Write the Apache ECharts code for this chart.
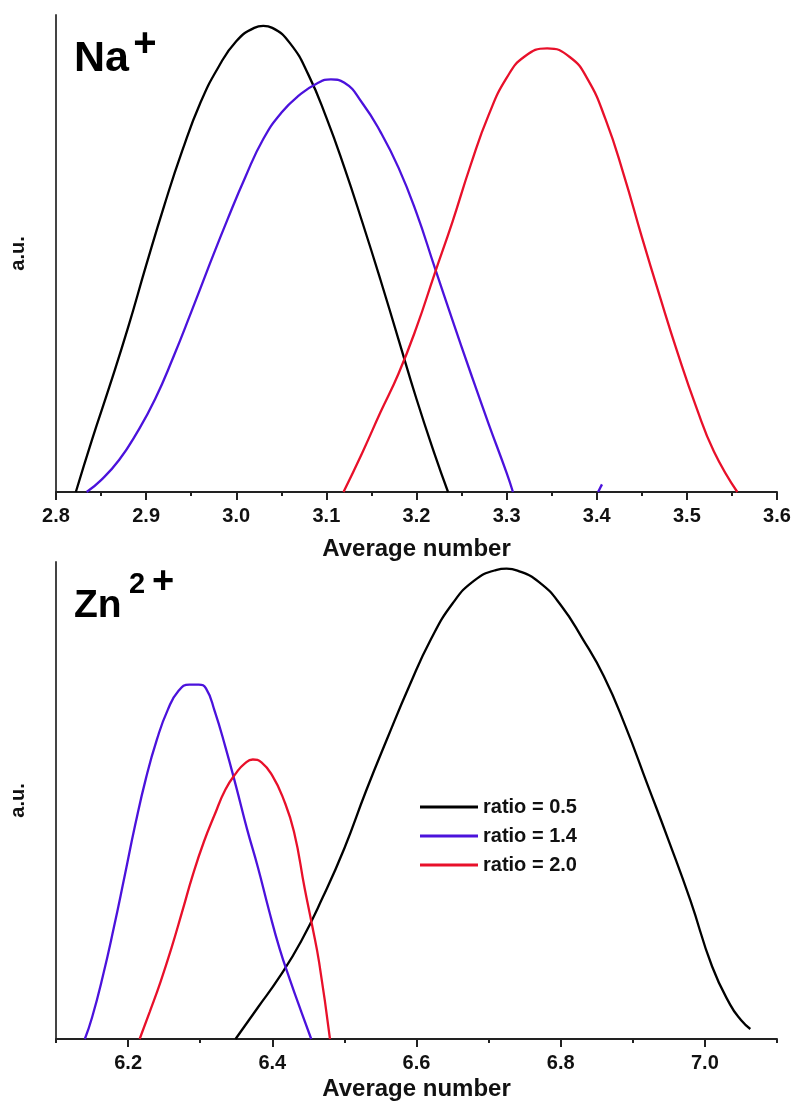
<!DOCTYPE html>
<html>
<head>
<meta charset="UTF-8">
<title>Average number</title>
<style>
  html, body { margin: 0; padding: 0; background: #fff; }
  #main { width: 798px; height: 1102px; }
</style>
</head>
<body>
<div id="main"></div>
<script src="https://cdn.jsdelivr.net/npm/echarts@6/dist/echarts.min.js"></script>
<script>
// series names
var names = ['ratio = 0.5', 'ratio = 1.4', 'ratio = 2.0'];
var colors = ['#000000', '#4B12DC', '#E8102A'];

// Na+ panel, [average number, a.u.]
var naBlack = [[2.822,0],[2.84,0.11],[2.86,0.225],[2.88,0.345],[2.90,0.475],[2.92,0.60],[2.94,0.715],
  [2.96,0.815],[2.98,0.89],[3.00,0.945],[3.02,0.973],[3.03,0.977],[3.04,0.973],[3.06,0.94],[3.08,0.875],
  [3.10,0.785],[3.12,0.68],[3.14,0.565],[3.16,0.445],[3.18,0.32],[3.20,0.195],[3.22,0.08],[3.235,0]];
var naBlue = [[2.834,0],[2.85,0.025],[2.87,0.067],[2.89,0.125],[2.91,0.195],[2.93,0.282],[2.95,0.377],
  [2.97,0.475],[2.99,0.570],[3.01,0.66],[3.03,0.74],[3.05,0.795],[3.07,0.832],[3.09,0.857],[3.105,0.865],
  [3.12,0.858],[3.14,0.815],[3.16,0.755],[3.18,0.68],[3.20,0.585],[3.22,0.472],[3.24,0.36],[3.26,0.25],
  [3.28,0.143],[3.30,0.04],[3.307,0]];
var naBlueTail = [[3.4015,0],[3.4058,0.016]];
var naRed = [[3.119,0],[3.14,0.083],[3.16,0.167],[3.18,0.248],[3.20,0.345],[3.22,0.457],[3.24,0.567],
  [3.26,0.685],[3.28,0.790],[3.30,0.868],[3.32,0.913],[3.345,0.930],[3.37,0.912],[3.39,0.865],[3.41,0.78],
  [3.43,0.665],[3.45,0.535],[3.47,0.41],[3.49,0.29],[3.51,0.18],[3.53,0.085],[3.556,0]];

// Zn2+ panel
var znBlack = [[6.349,0],[6.38,0.066],[6.41,0.13],[6.44,0.205],[6.47,0.297],[6.50,0.400],[6.53,0.520],
  [6.56,0.632],[6.59,0.740],[6.62,0.838],[6.65,0.913],[6.68,0.961],[6.71,0.983],[6.725,0.986],[6.74,0.982],
  [6.77,0.958],[6.80,0.910],[6.83,0.840],[6.86,0.76],[6.89,0.655],[6.92,0.535],[6.95,0.415],[6.98,0.29],
  [7.01,0.152],[7.035,0.072],[7.05,0.04],[7.063,0.021]];
var znBlue = [[6.140,0],[6.15,0.045],[6.165,0.132],[6.18,0.232],[6.195,0.340],[6.21,0.450],[6.225,0.548],
  [6.24,0.628],[6.255,0.690],[6.27,0.730],[6.285,0.743],[6.298,0.743],[6.308,0.735],[6.32,0.688],
  [6.335,0.612],[6.35,0.528],[6.365,0.440],[6.38,0.360],[6.395,0.272],[6.41,0.190],[6.425,0.122],
  [6.44,0.058],[6.454,0]];
var znRed = [[6.216,0],[6.23,0.057],[6.245,0.12],[6.26,0.19],[6.275,0.267],[6.29,0.345],[6.305,0.413],
  [6.32,0.47],[6.335,0.523],[6.35,0.558],[6.362,0.578],[6.373,0.586],[6.385,0.580],[6.40,0.552],
  [6.415,0.505],[6.43,0.435],[6.445,0.315],[6.455,0.24],[6.465,0.16],[6.48,0]];

// tick positions
var naMin = 2.8, naMax = 3.6;
var znMin = 6.1, znMax = 7.1;
var znMajorTicks = [6.2, 6.4, 6.6, 6.8, 7.0];
var znMinorTicks = [6.1, 6.3, 6.5, 6.7, 6.9, 7.1];

var font = 'Liberation Sans, Arial, sans-serif';
var labelStyle = { color: '#111', fontSize: 20, fontWeight: 'bold', fontFamily: font, margin: 14 };
var nameStyle = { color: '#111', fontSize: 24, fontWeight: 'bold', fontFamily: font };

function lineSeries(name, data, xi, color) {
  return {
    name: name, type: 'line', data: data, xAxisIndex: xi, yAxisIndex: xi === 0 ? 0 : 1,
    smooth: 0.5, symbol: 'none', silent: true,
    lineStyle: { color: color, width: 2.3 }, itemStyle: { color: color }
  };
}

function title(text, x, y, size, align) {
  return {
    type: 'text', z: 10,
    style: { text: text, x: x, y: y, fontSize: size, fontWeight: 'bold', fontFamily: font,
      fill: '#000', align: align || 'left', verticalAlign: 'middle' }
  };
}

var myChart = echarts.init(document.getElementById('main'));

myChart.setOption({
  animation: false,
  backgroundColor: '#fff',
  grid: [
    { left: 53, top: 15, width: 724, height: 477 },
    { left: 53, top: 562, width: 724, height: 478 }
  ],
  xAxis: [
    {
      gridIndex: 0, type: 'value', min: naMin, max: naMax, interval: 0.1,
      name: 'Average number', nameLocation: 'middle', nameGap: 45, nameTextStyle: nameStyle,
      axisLine: { show: true, lineStyle: { color: '#222', width: 2 } },
      axisTick: { show: true, length: 8, lineStyle: { color: '#222', width: 2 } },
      minorTick: { show: true, splitNumber: 2, length: 4, lineStyle: { color: '#222', width: 2 } },
      axisLabel: Object.assign({ formatter: function (v) { return v.toFixed(1); } }, labelStyle),
      splitLine: { show: false }
    },
    {
      gridIndex: 1, type: 'value', min: znMin, max: znMax,
      name: 'Average number', nameLocation: 'middle', nameGap: 38, nameTextStyle: nameStyle,
      axisLine: { show: true, lineStyle: { color: '#222', width: 2 } },
      axisTick: { show: true, length: 8, customValues: znMajorTicks, lineStyle: { color: '#222', width: 2 } },
      axisLabel: Object.assign({ customValues: znMajorTicks, formatter: function (v) { return v.toFixed(1); } }, labelStyle),
      splitLine: { show: false }
    },
    {
      gridIndex: 1, type: 'value', min: znMin, max: znMax, position: 'bottom',
      axisLine: { show: false },
      axisTick: { show: true, length: 4, customValues: znMinorTicks, lineStyle: { color: '#222', width: 2 } },
      axisLabel: { show: false },
      splitLine: { show: false }
    }
  ],
  yAxis: [
    {
      gridIndex: 0, type: 'value', min: 0, max: 1,
      name: 'a.u.', nameLocation: 'middle', nameGap: 28, nameTextStyle: Object.assign({}, nameStyle, { fontSize: 20 }),
      axisLine: { show: true, lineStyle: { color: '#444', width: 2 } },
      axisTick: { show: false }, axisLabel: { show: false }, splitLine: { show: false }
    },
    {
      gridIndex: 1, type: 'value', min: 0, max: 1,
      name: 'a.u.', nameLocation: 'middle', nameGap: 28, nameTextStyle: Object.assign({}, nameStyle, { fontSize: 20 }),
      axisLine: { show: true, lineStyle: { color: '#444', width: 2 } },
      axisTick: { show: false }, axisLabel: { show: false }, splitLine: { show: false }
    }
  ],
  legend: {
    data: names, orient: 'vertical', left: 415, top: 792,
    icon: 'rect', itemWidth: 58, itemHeight: 3, itemGap: 9,
    textStyle: { color: '#111', fontSize: 20, fontWeight: 'bold', fontFamily: font, lineHeight: 20 }
  },
  graphic: [
    title('Na', 74, 59, 43),
    title('+', 145, 45, 40, 'center'),
    title('Zn', 74, 606, 39),
    title('2', 129, 585, 29),
    title('+', 163, 583, 38, 'center')
  ],
  series: [
    lineSeries(names[0], naBlack, 0, colors[0]),
    lineSeries(names[1], naBlue, 0, colors[1]),
    lineSeries(names[1], naBlueTail, 0, colors[1]),
    lineSeries(names[2], naRed, 0, colors[2]),
    lineSeries(names[0], znBlack, 1, colors[0]),
    lineSeries(names[1], znBlue, 1, colors[1]),
    lineSeries(names[2], znRed, 1, colors[2])
  ]
});
</script>
</body>
</html>
